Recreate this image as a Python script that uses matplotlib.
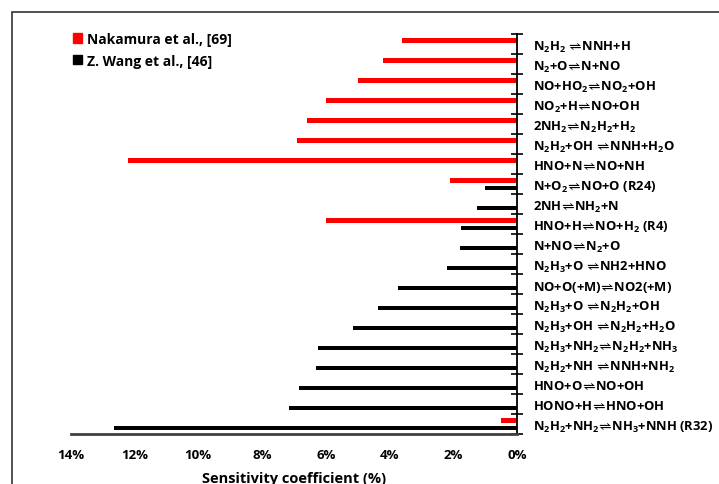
import numpy as np
import matplotlib
matplotlib.use('Agg')
import matplotlib.pyplot as plt
from matplotlib.patches import Patch, Rectangle

plt.rcParams['font.family'] = ['Open Sans', 'DejaVu Sans']
plt.rcParams['font.weight'] = 'bold'
plt.rcParams['mathtext.fontset'] = 'custom'
plt.rcParams['mathtext.rm'] = 'Open Sans:bold'
plt.rcParams['mathtext.default'] = 'regular'
plt.rcParams['mathtext.fallback'] = 'stixsans'

EQ = r'$\!\rightleftharpoons\!$'

# reacciones (de arriba hacia abajo)
reacciones = [
    'N$_2$H$_2$ ' + EQ + 'NNH+H',
    'N$_2$+O' + EQ + 'N+NO',
    'NO+HO$_2$' + EQ + 'NO$_2$+OH',
    'NO$_2$+H' + EQ + 'NO+OH',
    '2NH$_2$' + EQ + 'N$_2$H$_2$+H$_2$',
    'N$_2$H$_2$+OH ' + EQ + 'NNH+H$_2$O',
    'HNO+N' + EQ + 'NO+NH',
    'N+O$_2$' + EQ + 'NO+O (R24)',
    '2NH' + EQ + 'NH$_2$+N',
    'HNO+H' + EQ + 'NO+H$_2$ (R4)',
    'N+NO' + EQ + 'N$_2$+O',
    'N$_2$H$_3$+O ' + EQ + 'NH2+HNO',
    'NO+O(+M)' + EQ + 'NO2(+M)',
    'N$_2$H$_3$+O ' + EQ + 'N$_2$H$_2$+OH',
    'N$_2$H$_3$+OH ' + EQ + 'N$_2$H$_2$+H$_2$O',
    'N$_2$H$_3$+NH$_2$' + EQ + 'N$_2$H$_2$+NH$_3$',
    'N$_2$H$_2$+NH ' + EQ + 'NNH+NH$_2$',
    'HNO+O' + EQ + 'NO+OH',
    'HONO+H' + EQ + 'HNO+OH',
    'N$_2$H$_2$+NH$_2$' + EQ + 'NH$_3$+NNH (R32)',
]

# coeficientes de sensibilidad (%)
nakamura = [3.6, 4.2, 5.0, 6.0, 6.6, 6.9, 12.2, 2.1, 0, 6.0,
            0, 0, 0, 0, 0, 0, 0, 0, 0, 0.5]
wang = [0, 0, 0, 0, 0, 0, 0, 1.0, 1.25, 1.75,
        1.8, 2.2, 3.75, 4.35, 5.15, 6.25, 6.3, 6.85, 7.15, 12.65]

etiquetas_x = ['14%', '12%', '10%', '8%', '6%', '4%', '2%', '0%']
valores_x = [14, 12, 10, 8, 6, 4, 2, 0]

W, H = 719, 485
fig = plt.figure(figsize=(W / 100, H / 100), dpi=100)

# marco exterior
fig.patches.append(Rectangle((11.5 / W, -0.1), 1.2, 1 - 12.7 / H + 0.1,
                             transform=fig.transFigure, fill=False,
                             edgecolor='#333333', linewidth=1.2))

x0, x1 = 70.5, 517.3
y0, y1 = 35.3, 435.3
ax = fig.add_axes([x0 / W, 1 - y1 / H, (x1 - x0) / W, (y1 - y0) / H])

pos = np.arange(len(reacciones))
ax.barh(pos - 0.18, nakamura, height=0.24, color='#ff0000')
ax.barh(pos + 0.17, wang, height=0.2, color='black')

ax.set_xlim(14, 0)
ax.set_ylim(len(reacciones) - 0.5, -0.5)

for lado in ['left', 'top']:
    ax.spines[lado].set_visible(False)
ax.spines['bottom'].set_color('#404040')
ax.spines['bottom'].set_linewidth(2.0)
ax.spines['right'].set_color('black')
ax.spines['right'].set_linewidth(1.3)

ax.set_xticks(valores_x)
ax.set_xticklabels(etiquetas_x, fontsize=9.5, fontweight='bold')
ax.tick_params(axis='x', length=0, pad=10)

ax.yaxis.tick_right()
ax.set_yticks(np.arange(-0.5, len(reacciones), 1.0))
ax.set_yticklabels([])
ax.set_yticks(pos, minor=True)
ax.set_yticklabels(reacciones, minor=True, fontsize=9.4, fontweight='bold')
ax.tick_params(axis='y', which='major', direction='inout', length=9,
               width=1.2, color='black')
ax.tick_params(axis='y', which='minor', length=0, pad=11,
               labelright=True, labelleft=False)

ax.set_xlabel('Sensitivity coefficient (%)', fontsize=10.5,
              fontweight='bold', labelpad=7)

manejadores = [Patch(color='#ff0000'), Patch(color='black')]
fig.legend(manejadores, ['Nakamura et al., [69]', 'Z. Wang et al., [46]'],
           loc='upper left', bbox_to_anchor=(73 / W, 1 - 33 / H),
           frameon=False, fontsize=10, handlelength=0.65,
           handleheight=0.65, handletextpad=0.35, labelspacing=0.55,
           borderpad=0, borderaxespad=0)

fig.savefig('out.png', dpi=100)
